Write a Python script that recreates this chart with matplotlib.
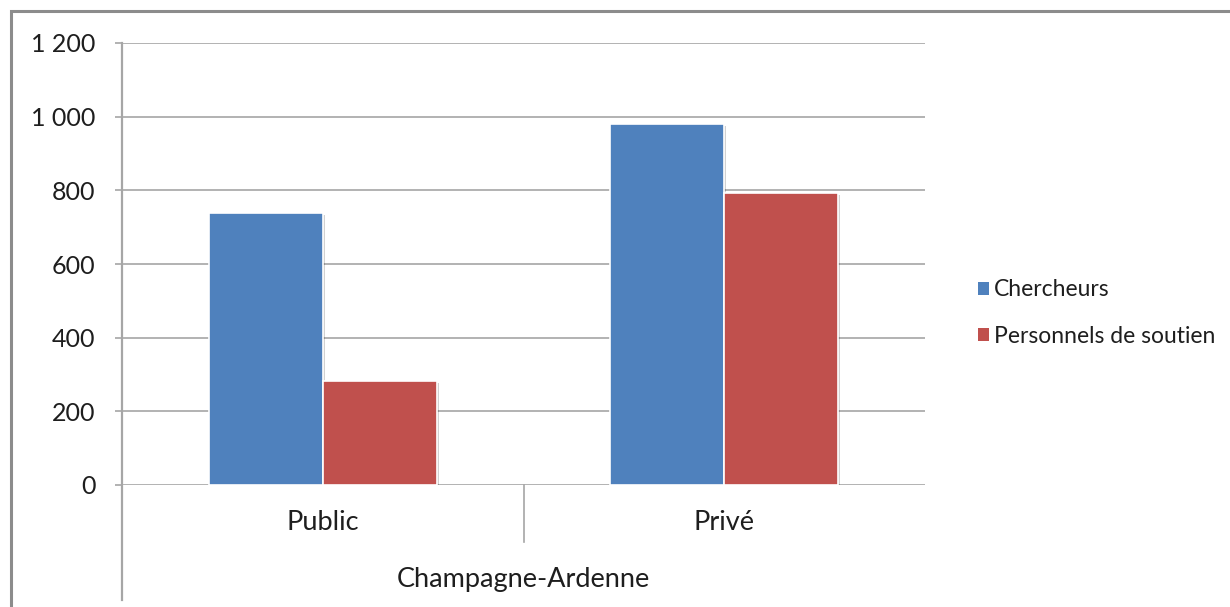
import numpy as np
import matplotlib
matplotlib.use("Agg")
import matplotlib.pyplot as plt
import matplotlib.patheffects as pe
from matplotlib.patches import Rectangle

# Effectifs R&D par secteur
region = "Champagne-Ardenne"
secteurs = ["Public", "Privé"]
series = ["Chercheurs", "Personnels de soutien"]
chercheurs = [738, 980]
soutien = [282, 793]
yticks = [0, 200, 400, 600, 800, 1000, 1200]

colors = ["#4F81BD", "#C0504D"]
grid_col = "#A6A6A6"
txt_col = "#1E1E1E"

plt.rcParams['font.family'] = ['Lato', 'DejaVu Sans']

W, H = 1230, 607
fig = plt.figure(figsize=(W / 100, H / 100), dpi=100)
ax = fig.add_axes([122 / W, (H - 485) / H, (925 - 122) / W, (485 - 43) / H])

x = np.arange(len(secteurs))
bw = 0.284
shadow = [pe.withSimplePatchShadow(offset=(1.5, -1.5), shadow_rgbFace="#000000", alpha=0.18)]
for i, vals in enumerate([chercheurs, soutien]):
    off = (i - 0.5) * bw
    ax.bar(x + off, vals, width=bw, color=colors[i], edgecolor="white",
           linewidth=1.2, zorder=3, path_effects=shadow)

ax.set_xlim(-0.5, len(secteurs) - 0.5)
ax.set_ylim(0, 1200)
ax.set_yticks(yticks)
ax.set_yticklabels(["{:,}".format(v).replace(",", " ") for v in yticks])
ax.yaxis.grid(True, color=grid_col, linewidth=1.2, zorder=0)
ax.tick_params(axis="y", length=5, width=1.2, color=grid_col, pad=14,
               labelsize=18, labelcolor=txt_col)
ax.set_xticks([])
for s in ax.spines.values():
    s.set_visible(False)

# axe vertical prolongé sous le graphique
ax.plot([0, 0], [1, -(600 - 485) / (485 - 43)], transform=ax.transAxes,
        color=grid_col, linewidth=1.6, clip_on=False, zorder=1)
# séparateur entre catégories
ax.plot([0.5, 0.5], [0, -(542 - 485) / (485 - 43)], color=grid_col, linewidth=1.2,
        clip_on=False, transform=ax.get_xaxis_transform())

for xi, name in zip(x, secteurs):
    ax.text(xi, -(522 - 485) / (485 - 43), name, transform=ax.get_xaxis_transform(),
            ha="center", va="center", fontsize=19.5, color=txt_col)
ax.text(0.5, -(580 - 485) / (485 - 43), region, transform=ax.get_xaxis_transform(),
        ha="center", va="center", fontsize=19.5, color=txt_col)

handles = [Rectangle((0, 0), 1, 1, facecolor=c, edgecolor="none") for c in colors]
fig.legend(handles, series, loc="center left", bbox_to_anchor=(957 / W, 1 - 313 / H),
           frameon=False, fontsize=16.5, handlelength=0.5, handleheight=0.5,
           handletextpad=0.2, labelspacing=1.1, labelcolor=txt_col)

# cadre du graphique
fig.patches.append(Rectangle((10.5 / W, -0.1), 1.2, 1 - 10.5 / H + 0.1,
                             transform=fig.transFigure, fill=False,
                             edgecolor="#8C8C8C", linewidth=2.2))

fig.savefig("out.png", dpi=100)
